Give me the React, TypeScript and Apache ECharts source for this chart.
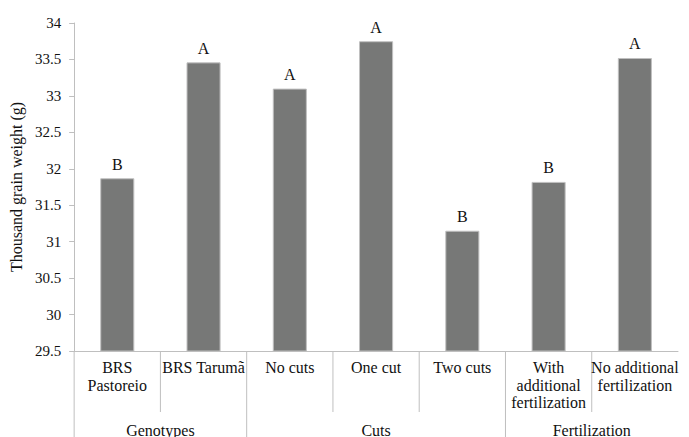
import React, { useEffect, useRef } from "react";
import * as echarts from "echarts";

const categories = [
  "BRS\nPastoreio",
  "BRS Tarumã",
  "No cuts",
  "One cut",
  "Two cuts",
  "With\nadditional\nfertilization",
  "No additional\nfertilization",
];
const values = [31.87, 33.46, 33.1, 33.75, 31.15, 31.82, 33.52];
const letters = ["B", "A", "A", "A", "B", "B", "A"];
const groups = ["Genotypes", "Cuts", "Fertilization"];
const groupSpans = [
  [0, 1],
  [2, 4],
  [5, 6],
];
const yTicks = { min: 29.5, max: 34, interval: 0.5 };

const FONT = "Liberation Serif, Times New Roman, serif";

export default function App() {
  const ref = useRef<HTMLDivElement>(null);
  useEffect(() => {
    if (!ref.current) return;
    const chart = echarts.init(ref.current, undefined, { renderer: "svg" });
    chart.setOption({
      animation: false,
      grid: { left: 72, top: 23, right: 11, bottom: 86 },
      xAxis: {
        type: "category",
        data: categories,
        axisLine: { lineStyle: { color: "#bfbfbf", width: 1 } },
        axisTick: { show: false },
        axisLabel: {
          interval: 0,
          fontFamily: FONT,
          fontSize: 16,
          color: "#111",
          lineHeight: 17.5,
          margin: 8,
        },
      },
      yAxis: {
        type: "value",
        min: yTicks.min,
        max: yTicks.max,
        interval: yTicks.interval,
        splitLine: { show: false },
        axisLine: { show: true, lineStyle: { color: "#bfbfbf", width: 1 } },
        axisTick: { show: true, length: 5, lineStyle: { color: "#bfbfbf" } },
        axisLabel: {
          fontFamily: FONT,
          fontSize: 15,
          color: "#111",
          margin: 13,
          formatter: (v: number) => String(v),
        },
        name: "Thousand grain weight (g)",
        nameLocation: "middle",
        nameRotate: 90,
        nameGap: 41,
        nameTextStyle: { fontFamily: FONT, fontSize: 16, color: "#111" },
      },
      series: [
        {
          type: "bar",
          data: values,
          barWidth: "39.5%",
          itemStyle: { color: "#777877", borderColor: "#c0c0c0", borderWidth: 1 },
          label: {
            show: true,
            position: "top",
            distance: 6,
            fontFamily: FONT,
            fontSize: 16,
            color: "#111",
            formatter: (p: any) => letters[p.dataIndex],
          },
        },
      ],
    });

    const x0 = chart.convertToPixel({ xAxisIndex: 0 }, 0) as number;
    const x1 = chart.convertToPixel({ xAxisIndex: 0 }, 1) as number;
    const w = x1 - x0;
    const yBase = chart.convertToPixel({ yAxisIndex: 0 }, yTicks.min) as number;
    const edge = (i: number) => x0 - w / 2 + i * w;
    const groupEdges = new Set(groupSpans.map((s) => s[0]));
    const graphics: any[] = [];
    for (let i = 0; i < categories.length; i++) {
      const long = groupEdges.has(i);
      graphics.push({
        type: "line",
        shape: { x1: edge(i), y1: yBase, x2: edge(i), y2: long ? 437 : yBase + 61 },
        style: { stroke: "#bfbfbf", lineWidth: 1 },
        silent: true,
      });
    }
    groupSpans.forEach((s, gi) => {
      const cx = (edge(s[0]) + edge(s[1] + 1)) / 2;
      graphics.push({
        type: "text",
        x: cx,
        y: yBase + 79,
        style: {
          text: groups[gi],
          fontFamily: FONT,
          fontSize: 16,
          fill: "#111",
          align: "center",
          verticalAlign: "middle",
        },
        silent: true,
      });
    });
    chart.setOption({ graphic: graphics });
    return () => chart.dispose();
  }, []);
  return <div ref={ref} style={{ width: 689, height: 437, position: "absolute", left: 0, top: 0 }} />;
}
